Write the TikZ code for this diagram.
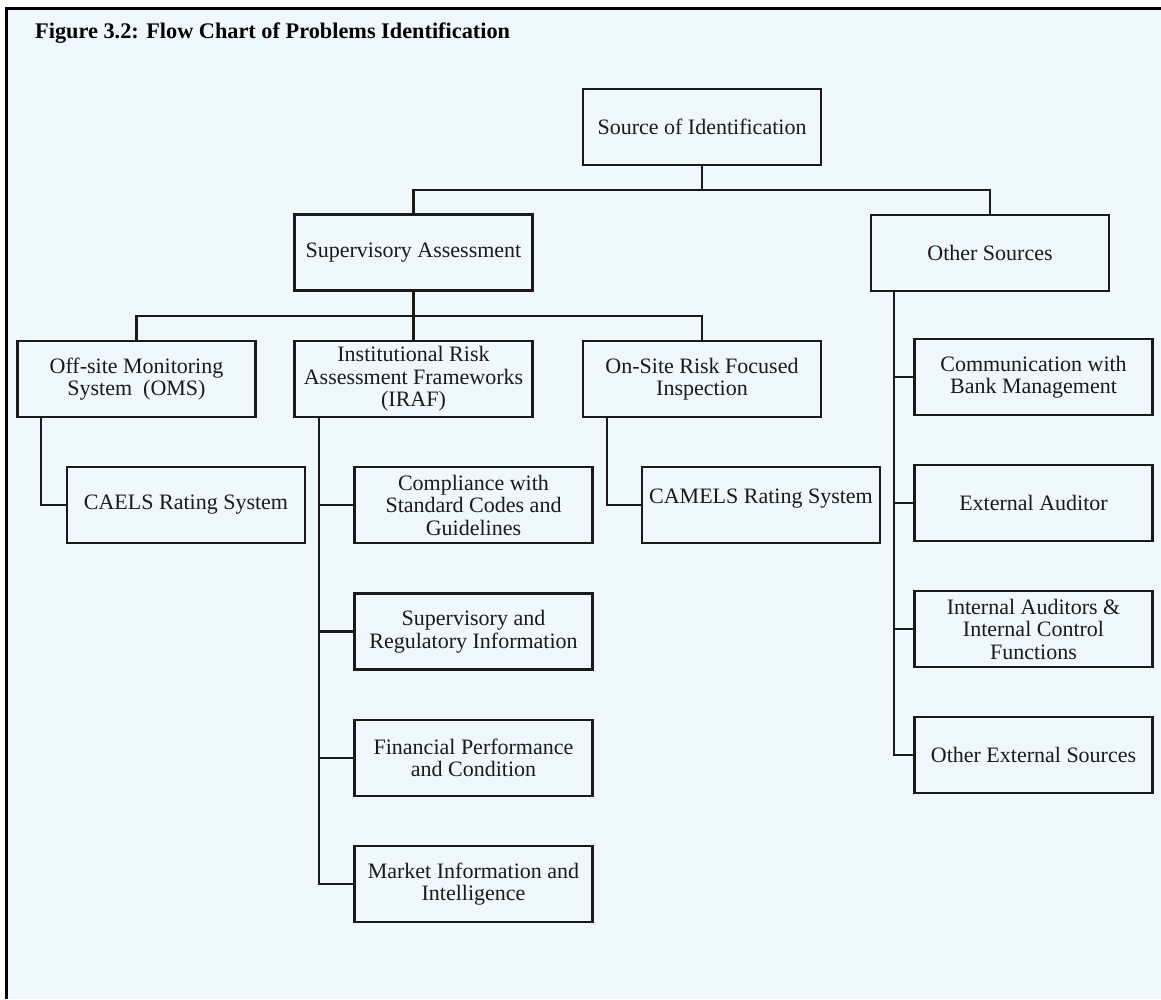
\documentclass[tikz,border=0pt]{standalone}
\usepackage{fontspec}
\setmainfont{Liberation Serif}
\usepackage{xcolor}
\usepackage{tikz}
\usetikzlibrary{positioning,calc}
\definecolor{fcBack}{HTML}{EEF8FD}
\definecolor{fcInk}{HTML}{1A1A1A}

\begin{document}
\begin{tikzpicture}[x=1pt,y=-1pt,font=\fontsize{22}{22.5}\selectfont,
  bx/.style={draw=fcInk,line width=2.6pt,minimum width=238pt,minimum height=76pt,
             align=center,inner sep=2pt,text=fcInk},
  ln/.style={fcInk,line width=2.6pt}]
\useasboundingbox (0,0) rectangle (1161,999);
\fill[fcBack] (6,8) rectangle (1161,999);
\draw[line width=3pt,black] (6,999) -- (6,8) -- (1161,8);
\node[anchor=base west,inner sep=0pt,font=\fontsize{22.3}{22}\selectfont\bfseries] (ttl) at (35,38)
  {Figure 3.2: Flow Chart of Problems Identification};
% top levels
\node[bx] (src) at (702,127)   {Source of Identification};
\node[bx] (sup) at (413.5,252.5) {Supervisory Assessment};
\node[bx] (oth) at (990,253)   {Other Sources};
\node[bx] (oms) at (136.5,379) {Off-site Monitoring\\System~~(OMS)};
\node[bx] (iraf) at (413.5,379) {Institutional Risk\\Assessment Frameworks\\(IRAF)};
\node[bx] (ons) at (702,379)   {On-Site Risk Focused\\Inspection};
% leaves
\node[bx] (caels) at (186,505)    {CAELS Rating System};
\node[bx] (comp) at (473.5,505)   {Compliance with\\Standard Codes and\\Guidelines};
\node[bx] (sreg) at (473.5,631.5) {Supervisory and\\Regulatory Information};
\node[bx] (fin) at (473.5,758)    {Financial Performance\\and Condition};
\node[bx] (mkt) at (473.5,884)    {Market Information and\\Intelligence};
\node[bx,text depth=18pt] (camels) at (761,505) {CAMELS Rating System};
\node[bx] (comm) at (1033.5,377)  {Communication with\\Bank Management};
\node[bx] (ext) at (1033.5,503)   {External Auditor};
\node[bx] (intl) at (1033.5,629)  {Internal Auditors \&\\Internal Control\\Functions};
\node[bx] (othx) at (1033.5,755)  {Other External Sources};
% buses
\coordinate (b1) at (702,190);
\coordinate (b2) at (413.5,316);
\draw[ln] (src.south) -- (b1);
\draw[ln] (sup.north) |- (b1) -| (oth.north);
\draw[ln] (sup.south) -- (iraf.north);
\draw[ln] (oms.north) |- (b2) -| (ons.north);
% drops
\coordinate (mo) at ([xshift=-95.5]oms.south);
\coordinate (mi) at ([xshift=-94.5]iraf.south);
\coordinate (mn) at ([xshift=-95]ons.south);
\coordinate (mt) at ([xshift=-96]oth.south);
\draw[ln] (mo) |- (caels.west);
\draw[ln] (mn) |- ([yshift=0pt]camels.west |- caels.west);
\draw[ln] (mi) |- (mkt.west);
\foreach \n in {comp,sreg,fin} \draw[ln] (\n.west) -- (\n.west -| mi);
\draw[ln] (mt) |- (othx.west);
\foreach \n in {comm,ext,intl} \draw[ln] (\n.west) -- (\n.west -| mt);
\end{tikzpicture}
\end{document}
